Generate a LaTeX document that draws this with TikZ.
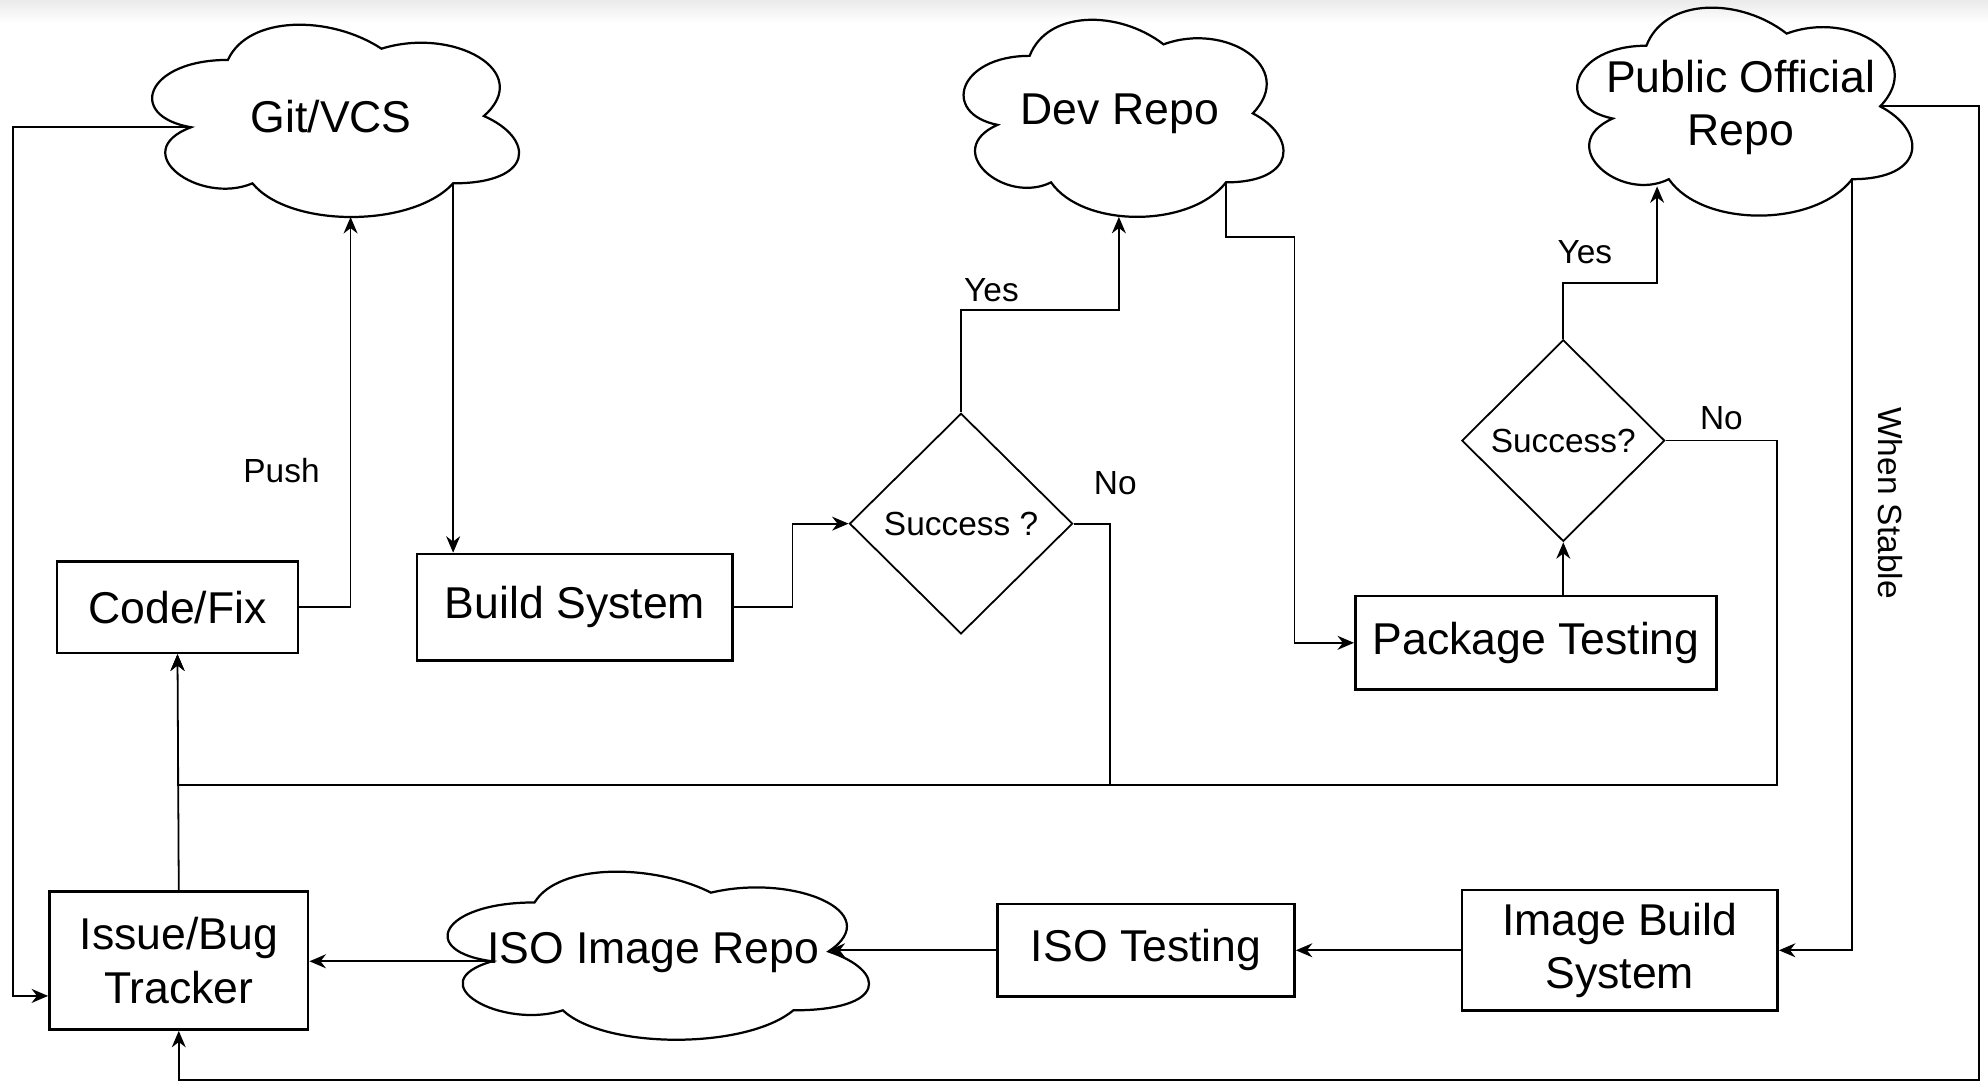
\documentclass[tikz,border=0pt]{standalone}
\usepackage{fontspec}
\setmainfont{Liberation Sans}
\usetikzlibrary{positioning,shapes.geometric,arrows.meta}

% cloud drawn in a w x h box, with points on its outline for the connectors
\newcommand{\repocloud}[6]{% name, top left x, top left y, width, height, text
  \node[repo, minimum width=#4cm, minimum height=#5cm, anchor=north west] (#1) at (#2,#3) {#6};
  \begin{scope}[shift={(#1.north west)}, x=#4cm, y=-#5cm]
    \draw[line width=0.5pt] (0.25,0.25) .. controls (0.05,0.25) and (0,0.5) .. (0.16,0.55)
      .. controls (0,0.66) and (0.18,0.9) .. (0.31,0.8)
      .. controls (0.4,1) and (0.7,1) .. (0.8,0.8)
      .. controls (1,0.8) and (1,0.6) .. (0.875,0.5)
      .. controls (1,0.3) and (0.8,0.1) .. (0.625,0.2)
      .. controls (0.5,0.05) and (0.3,0.05) .. (0.25,0.25) -- cycle;
    \coordinate (#1-l) at (0.16,0.55);
    \coordinate (#1-r) at (0.875,0.5);
    \coordinate (#1-o) at (0.8,0.8);
    \coordinate (#1-b) at (0.5,0.95);
  \end{scope}}

\begin{document}
\begin{tikzpicture}[font=\fontsize{10}{12}\selectfont,
  >={Stealth[length=1.3mm,width=1.1mm]},
  box/.style={draw, line width=0.6pt, fill=white, align=center, inner sep=2pt},
  repo/.style={align=center, inner sep=0pt},
  decision/.style={draw, diamond, line width=0.4pt, inner sep=1pt, font=\fontsize{7.5}{9}\selectfont},
  lbl/.style={font=\fontsize{7.5}{9}\selectfont}]
  \useasboundingbox (0,0) rectangle (15.68,-8.534);
  \shade[top color=black!8, bottom color=white] (0,0) rectangle (15.68,-0.18);

  %------ repos
  \repocloud{git}{0.99}{-0.03}{3.23}{1.77}{Git/VCS}
  \repocloud{dev}{7.417}{0.013}{2.816}{1.814}{Dev Repo}
  \repocloud{pub}{12.248}{0.118}{2.95}{1.914}{Public Official\\Repo}
  \repocloud{iso}{3.289}{-6.731}{3.71}{1.547}{ISO Image Repo}
  \coordinate (pubin) at (13.07,-1.47);

  %------ boxes
  \node[box, minimum width=1.90cm, minimum height=0.72cm] (code) at (1.40,-4.79) {Code/Fix};
  \node[box, minimum width=2.49cm, minimum height=0.84cm] (build) at (4.535,-4.79) {Build System};
  \node[box, minimum width=2.85cm, minimum height=0.74cm] (pkg) at (12.115,-5.07) {Package Testing};
  \node[box, minimum width=2.04cm, minimum height=1.09cm] (issue) at (1.41,-7.575) {Issue/Bug\\Tracker};
  \node[box, minimum width=2.34cm, minimum height=0.73cm] (isotest) at (9.04,-7.495) {ISO Testing};
  \node[box, minimum width=2.49cm, minimum height=0.95cm] (imgbuild) at (12.775,-7.495) {Image Build\\System};

  \node[decision, minimum width=1.76cm, minimum height=1.74cm] (dec1) at (7.58,-4.13) {Success ?};
  \node[decision, minimum width=1.60cm, minimum height=1.59cm] (dec2) at (12.33,-3.475) {Success?};

  %------ code side
  \draw[->] (git-l) -| (0.10,-4) |- ([yshift=-2.8mm]issue.west);
  \draw[->] (code.east) -| node[pos=0.675, left=1.2mm, lbl] {Push} ([xshift=1.6mm]git-b);
  \draw[->] (git-o) -- (git-o |- build.north);
  \draw[->] (build.east) -- ++(0.46,0) |- (dec1.west);
  \draw[->] (dec1.north) -- ++(0,0.81) node[above, xshift=2.4mm, yshift=-0.6mm, lbl] {Yes} -| (dev-b);

  %------ failures go back to Code/Fix
  \coordinate (join) at ([yshift=-1.03cm]code.south);
  \draw[->] (dec1.east) -- ++(0.29,0) node[above=1.05mm, xshift=0.4mm, lbl] {No} |- (join) -- (code.south);
  \draw[->] (dec2.east) -- node[above, yshift=-0.4mm, lbl] {No} ++(0.88,0) |- (join) -- (code.south);
  \draw[->] (issue.north) -- (code.south);

  %------ package side
  \draw[->] (dev-o) -- ++(0,-0.43) -- ++(0.54,0) |- (pkg.west);
  \draw[->] (pkg.north -| dec2.south) -- (dec2.south);
  \draw[->] (dec2.north) -- ++(0,0.44) node[above=0.3mm, xshift=1.7mm, lbl] {Yes} -| (pubin);

  %------ image side
  \draw[->] (pub-o) |- node[pos=0.21, rotate=-90, anchor=south, inner sep=2mm, lbl] {When Stable} (imgbuild.east);
  \draw[->] (pub-r) -| (15.61,-8.52) -| (issue.south);
  \draw[->] (imgbuild.west) -- (isotest.east);
  \draw[->] (isotest.west) -- (isotest.west -| iso-r);
  \draw[->] (iso-l) -- (iso-l -| issue.east);
\end{tikzpicture}
\end{document}
